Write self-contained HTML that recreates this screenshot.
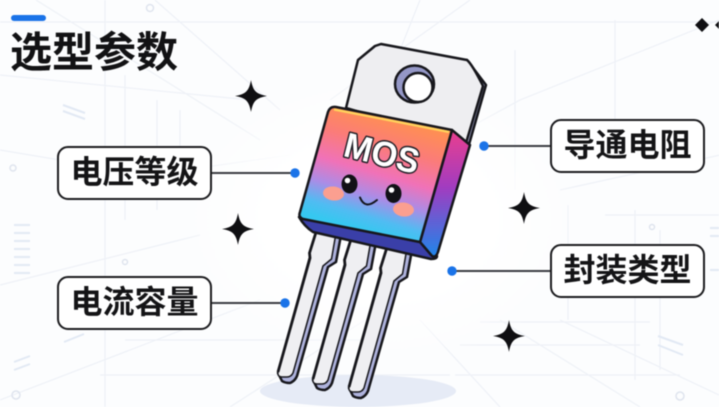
<!DOCTYPE html>
<html lang="zh">
<head>
<meta charset="utf-8">
<style>
html,body{margin:0;padding:0;background:#fcfdfe}
#c{position:relative;width:719px;height:407px;overflow:hidden;background:#fcfdfe;font-family:"Liberation Sans","Noto Sans CJK SC",sans-serif;filter:blur(.5px)}
svg{position:absolute;left:0;top:0}
.l{position:absolute;box-sizing:border-box;width:155px;height:54px;border:2.5px solid #1c1c1f;border-radius:11px;background:#fff;color:#141416;font-size:32px;font-weight:700;line-height:49px;text-align:center;white-space:nowrap}
#t{position:absolute;left:10px;top:25px;font-size:42px;line-height:56px;font-weight:700;color:#121214;white-space:nowrap}
#b{position:absolute;left:11px;top:15px;width:35px;height:6px;border-radius:3px;background:#1a73e8}
</style>
</head>
<body>
<div id="c">
<svg width="719" height="407" viewBox="0 0 719 407">
<defs>
<linearGradient id="f" gradientUnits="userSpaceOnUse" x1="392" y1="118" x2="360" y2="229">
<stop offset="0" stop-color="#ff8f52"/>
<stop offset=".25" stop-color="#fb7c78"/>
<stop offset=".5" stop-color="#f072b8"/>
<stop offset=".7" stop-color="#ab8ce6"/>
<stop offset=".88" stop-color="#50bcf2"/>
<stop offset="1" stop-color="#36c8f0"/>
</linearGradient>
<linearGradient id="s" x1="0" y1="0" x2="0" y2="1">
<stop offset="0" stop-color="#ea3f8e"/>
<stop offset=".45" stop-color="#a23cc0"/>
<stop offset="1" stop-color="#1f86ea"/>
</linearGradient>
<radialGradient id="w" cx="52%" cy="48%" r="45%">
<stop offset=".55" stop-color="#fff"/>
<stop offset="1" stop-color="#fff" stop-opacity="0"/>
</radialGradient>
<path id="st" d="M0-16C2-5 5-2 16 0 5 2 2 5 0 16-2 5-5 2-16 0-5-2-2-5 0-16Z"/>
<g id="leg">
<path d="M336 233 341 235 336 262 328 267 297 376 Q295 381 290 383 Q285 383 282 381 L278 373 310 257Z" fill="#aeb2dc" stroke="#17171c" stroke-width="2.500" stroke-linejoin="round"/>
<path d="M317 229 336 233 331.500 259 323 266 293 373 Q291 377 287 377 L283 377 Q277 377 278 372 L310 258 309.500 253Z" fill="#efeff2" stroke="#17171c" stroke-width="1.500" stroke-linejoin="round"/>
<path d="M317 229 309.500 253 310 258 278 372" fill="none" stroke="#17171c" stroke-width="2.800"/>
</g>
</defs>

<g fill="none" stroke="#eef1f7" stroke-width="1.200">
<path d="M0 22H719M0 75 250 100M719 20 520 100 400 165M0 150 150 175 290 155M0 285 200 235M0 400 130 350 260 300M105 0V407M125 75V220M157 100V210M180 110V190M36 0 260 140M155 0 280 110M230 407 365 320M380 100 420 0M470 0 330 100"/>
<path d="M515 50V190M615 20V140M635 210V380M660 230V370M720 155 560 190M605 215H719M568 205V320M560 320 719 395"/>
<path d="M125 340H380M100 375H450M480 322H650M460 345H640M455 375H680M500 320 640 407M420 320 500 407"/>
</g>
<g fill="none" stroke="#e2e9f4" stroke-width="2">
<path d="M14 225H30M14 233H30M14 241H30M14 249H30M14 257H30M14 265H30M14 273H30M14 362 30 356M14 370 30 364M63 105 85 113M63 111 85 119M64 342 84 334M658 336 683 345M658 345 683 355M710 228H719M710 236H719M710 270H719"/>
</g>
<g fill="none" stroke="#dfe4ee" stroke-width="1.500">
<circle cx="150" cy="8" r="3.500"/><circle cx="16" cy="395" r="4"/><circle cx="680" cy="396" r="4"/><circle cx="13" cy="168" r="3"/><circle cx="125" cy="262" r="2.500"/><circle cx="652" cy="227" r="2.500"/>
</g>

<ellipse cx="370" cy="225" rx="230" ry="165" fill="url(#w)"/>
<ellipse cx="358" cy="391" rx="98" ry="16" fill="#e6ebf6"/>

<use href="#st" x="251" y="96" fill="#0f0f12"/>
<use href="#st" x="238" y="229" fill="#0f0f12"/>
<use href="#st" x="524" y="208" fill="#0f0f12"/>
<use href="#st" x="509" y="336" fill="#0f0f12"/>
<path d="M702 18 709 25 702 32 695 25Z" fill="#0f0f12"/>
<path d="M719 21 715 25 719 29Z" fill="#0f0f12"/>

<path d="M212 173H295M212 303H285M484 146H550M452 271H550" stroke="#3b3d42" stroke-width="2" fill="none"/>
<circle cx="295" cy="173" r="4.700" fill="#1a73e8"/>
<circle cx="285" cy="303" r="4.700" fill="#1a73e8"/>
<circle cx="484" cy="146" r="4.700" fill="#1a73e8"/>
<circle cx="452" cy="271" r="4.700" fill="#1a73e8"/>

<!-- legs -->
<use href="#leg"/>
<use href="#leg" x="35" y="7"/>
<use href="#leg" x="71" y="15"/>

<!-- tab -->
<path d="M467 60 486 85 468 148 450 140Z" fill="#abafd8" stroke="#17171c" stroke-width="2.500" stroke-linejoin="round"/>
<path d="M381 44 467 60 Q472 64 483 86 L466 143 346 108 358 60 375 46Z" fill="#eeeef1" stroke="#17171c" stroke-width="2.500" stroke-linejoin="round"/>
<ellipse cx="414.500" cy="84" rx="19.500" ry="18.500" fill="#9497c6" stroke="#17171c" stroke-width="2.500"/>
<circle cx="418" cy="87.500" r="14.500" fill="#fff" stroke="#17171c" stroke-width="2.500"/>

<!-- body -->
<path d="M299 217 420 242 437 256 Q437 259 431 259 L313 232 Q304 226 299 217Z" fill="#3a3fa8" stroke="#17171c" stroke-width="2.500" stroke-linejoin="round"/>
<path d="M452 130 470 145 438 252 Q436 258 432 256 L420 242Z" fill="url(#s)" stroke="#17171c" stroke-width="2.500" stroke-linejoin="round"/>
<path d="M336 107 452 130 420 242 303 219 Q298 217 300 212 L328 112 Q330 106 336 107Z" fill="url(#f)" stroke="#17171c" stroke-width="2.500" stroke-linejoin="round"/>
<path d="M334 109.500 449 132" stroke="#ffd35c" stroke-width="2.200" fill="none"/>

<text transform="translate(379 165) rotate(14)" text-anchor="middle" font-family="Liberation Sans,sans-serif" font-size="35" font-weight="700" fill="#fff" stroke="#1f1f26" stroke-width="3" paint-order="stroke" stroke-linejoin="round" textLength="76" lengthAdjust="spacingAndGlyphs">MOS</text>

<ellipse cx="333.500" cy="193.500" rx="10.500" ry="7" fill="#fb9f90" transform="rotate(6 333.500 193.500)"/>
<ellipse cx="403.500" cy="209.500" rx="10.500" ry="7" fill="#fb9f90" transform="rotate(6 403.500 209.500)"/>
<ellipse cx="349.500" cy="184" rx="8" ry="9.500" fill="#111116"/>
<ellipse cx="393.500" cy="193.500" rx="8" ry="9.500" fill="#111116"/>
<circle cx="347.500" cy="180.500" r="2.800" fill="#fff"/>
<circle cx="391.500" cy="190" r="2.800" fill="#fff"/>
<path d="M360 197.500Q365 210 377 200" fill="none" stroke="#15151c" stroke-width="2" stroke-linecap="round"/>
</svg>

<div id="b"></div>
<div id="t">选型参数</div>
<div class="l" style="left:57px;top:146px">电压等级</div>
<div class="l" style="left:57px;top:276px">电流容量</div>
<div class="l" style="left:550px;top:119px">导通电阻</div>
<div class="l" style="left:550px;top:244px">封装类型</div>
</div>
</body>
</html>
